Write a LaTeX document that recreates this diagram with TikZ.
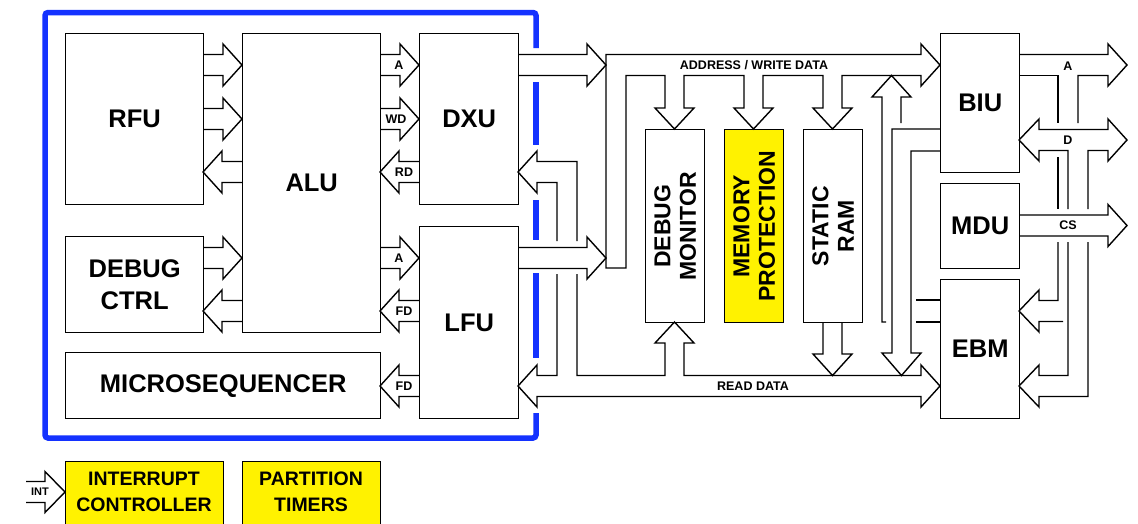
\documentclass[tikz,border=0pt]{standalone}
\usepackage{fontspec}
\setmainfont{Liberation Sans}
\definecolor{frameblue}{RGB}{20,50,255}
\newcommand\fBig{\fontsize{25.5}{32}\selectfont\bfseries}
\newcommand\fVert{\fontsize{23}{25.5}\selectfont\bfseries}
\newcommand\fMid{\fontsize{19.5}{25.5}\selectfont\bfseries}
\newcommand\fSmall{\fontsize{12.5}{14}\selectfont\bfseries}
\newcommand\fTiny{\fontsize{11}{12}\selectfont\bfseries}
\tikzset{
  box/.style={draw, line width=1.4pt, fill=white, anchor=north west, inner sep=0pt, font=\fBig},
  bus/.style={draw, line width=1.4pt, line join=miter},
  frame/.style={draw=frameblue, line width=5.5pt, rounded corners=3pt},
  lbl/.style={font=\fSmall, inner sep=0pt},
  vtext/.style={font=\fVert, align=center, rotate=90, inner sep=0pt},
  mtext/.style={font=\fMid, align=center, inner sep=0pt}
}
% right arrow: start x, tip x, y ; left arrow: tip x, start x, y
\newcommand\arR[3]{\draw[bus] (#1,#3-10.5) -- (#2-19,#3-10.5) -- (#2-19,#3-21) -- (#2,#3) -- (#2-19,#3+21) -- (#2-19,#3+10.5) -- (#1,#3+10.5);}
\newcommand\arL[3]{\draw[bus] (#2,#3-10.5) -- (#1+19,#3-10.5) -- (#1+19,#3-21) -- (#1,#3) -- (#1+19,#3+21) -- (#1+19,#3+10.5) -- (#2,#3+10.5);}
\begin{document}
\begin{tikzpicture}[x=1pt,y=-1pt]
\path[use as bounding box, clip] (0,0) rectangle (1138,523);
\fill[white] (0,0) rectangle (1138,523);
% blue frame
\draw[frame] (536,48) -- (536,12.5) -- (45,12.5) -- (45,438) -- (536,438) -- (536,413);
\draw[frame] (536,82) -- (536,145) (536,200) -- (536,240) (536,273) -- (536,358);
% boxes
\node[box,minimum width=138pt,minimum height=171pt] (rfu) at (65,33) {RFU};
\node[box,minimum width=138pt,minimum height=299pt] (alu) at (242,33) {ALU};
\node[box,minimum width=138pt,minimum height=96pt,align=center] (dbg) at (65,236) {DEBUG\\CTRL};
\node[box,minimum width=315pt,minimum height=66pt] (mseq) at (65,352) {MICROSEQUENCER};
\node[box,minimum width=99pt,minimum height=171pt] (dxu) at (419,33) {DXU};
\node[box,minimum width=99pt,minimum height=192pt] (lfu) at (419,226) {LFU};
\node[box,minimum width=59pt,minimum height=193pt] (dmon) at (645,129) {};
\node[vtext] at (dmon.center) {DEBUG\\MONITOR};
\node[box,fill=yellow,minimum width=59pt,minimum height=193pt] (mprot) at (724,129) {};
\node[vtext] at (mprot.center) {MEMORY\\PROTECTION};
\node[box,minimum width=59pt,minimum height=193pt] (sram) at (803,129) {};
\node[vtext] at (sram.center) {STATIC\\RAM};
\node[box,minimum width=79pt,minimum height=139pt] (biu) at (940,33) {BIU};
\node[box,minimum width=79pt,minimum height=85pt] (mdu) at (940,183) {MDU};
\node[box,minimum width=79pt,minimum height=139pt] (ebm) at (940,279) {EBM};
\node[box,fill=yellow,minimum width=158pt,minimum height=80pt] (intc) at (65,461) {};
\node[mtext] at (144,492) {INTERRUPT\\CONTROLLER};
\node[box,fill=yellow,minimum width=138pt,minimum height=80pt] (ptim) at (242,461) {};
\node[mtext] at (311,492) {PARTITION\\TIMERS};
% RFU / DEBUG CTRL <-> ALU
\arR{203}{242}{65}
\arR{203}{242}{119}
\arL{203}{242}{172}
\arR{203}{242}{258}
\arL{203}{242}{311}
% ALU <-> DXU / LFU / MICROSEQUENCER
\arR{380}{419}{65}
\arR{380}{419}{119}
\arL{380}{419}{172}
\arR{380}{419}{258}
\arL{380}{419}{311}
\arL{380}{419}{386}
\node[lbl] at (399,65) {A};
\node[lbl] at (396,119) {WD};
\node[lbl] at (404,172) {RD};
\node[lbl] at (399,258) {A};
\node[lbl] at (404,311) {FD};
\node[lbl] at (404,386) {FD};
% DXU / LFU to address bus
\arR{518}{606}{65}
\arR{518}{606}{258}
% address / write data bus
\draw[bus] (606,54.5) -- (921,54.5) -- (921,44) -- (940,65) -- (921,86) -- (921,75.5)
  -- (842,75.5) -- (842,108) -- (852,108) -- (832.5,129) -- (813,108) -- (823,108) -- (823,75.5)
  -- (763,75.5) -- (763,108) -- (773,108) -- (753.5,129) -- (734,108) -- (744,108) -- (744,75.5)
  -- (684,75.5) -- (684,108) -- (694,108) -- (674.5,129) -- (655,108) -- (665,108) -- (665,75.5)
  -- (626,75.5) -- (626,268) -- (606,268) -- cycle;
\node[lbl] at (754,65) {ADDRESS / WRITE DATA};
% up arrow into address bus
\draw[bus] (886,322) -- (882,322) -- (882,97) -- (872,97) -- (891.5,75.5) -- (911,97) -- (901,97) -- (901,123);
% data from BIU down to read data bus
\draw[bus] (940,129) -- (892,129) -- (892,353) -- (882,353) -- (901.5,375.5) -- (921,353) -- (911,353) -- (911,151) -- (940,151);
% EBM stubs
\draw[bus] (916,300) -- (940,300) (916,322) -- (940,322);
% read data bus
\draw[bus] (577,274) -- (577,375.5) -- (665,375.5) -- (665,343) -- (655,343) -- (674.5,322) -- (694,343) -- (684,343)
  -- (684,375.5) -- (921,375.5) -- (921,365) -- (940,386) -- (921,407) -- (921,396.5) -- (537,396.5)
  -- (537,407) -- (518,386) -- (537,365) -- (537,375.5) -- (557,375.5) -- (557,274);
\draw[bus] (557,241) -- (557,182.5) -- (537,182.5) -- (537,193) -- (518,172) -- (537,151) -- (537,161.5) -- (577,161.5) -- (577,241);
\node[lbl] at (753,386) {READ DATA};
% static RAM down arrow
\draw[bus] (823,322) -- (823,354) -- (813,354) -- (832.5,375.5) -- (852,354) -- (842,354) -- (842,322);
% right side: A
\draw[bus] (1019,54.5) -- (1108,54.5) -- (1108,44) -- (1127,65) -- (1108,86) -- (1108,75.5) -- (1078,75.5) -- (1078,123);
\draw[bus] (1019,75.5) -- (1058,75.5) -- (1058,123);
\draw[bus] (1058,157) -- (1058,209);
\draw[bus] (1058,242) -- (1058,300.5) -- (1039,300.5) -- (1039,290) -- (1019,311) -- (1039,332) -- (1039,321.5) -- (1063,321.5);
% D
\draw[bus] (1068,209) -- (1068,150.5) -- (1039,150.5) -- (1039,161) -- (1019,140) -- (1039,119) -- (1039,129.5)
  -- (1108,129.5) -- (1108,119) -- (1127,140) -- (1108,161) -- (1108,150.5) -- (1088,150.5) -- (1088,209);
\draw[bus] (1068,242) -- (1068,375.5) -- (1039,375.5) -- (1039,365) -- (1019,386) -- (1039,407) -- (1039,396.5) -- (1088,396.5) -- (1088,242);
% CS
\arR{1019}{1127}{225.5}
\node[lbl] at (1068,66) {A};
\node[lbl] at (1068,140) {D};
\node[lbl] at (1068,225.5) {CS};
% INT
\draw[bus] (26,481.5) -- (45,481.5) -- (45,471.5) -- (65,492) -- (45,512.5) -- (45,502.5) -- (26,502.5);
\node[font=\fTiny, inner sep=0pt] at (40,492) {INT};
\end{tikzpicture}
\end{document}
